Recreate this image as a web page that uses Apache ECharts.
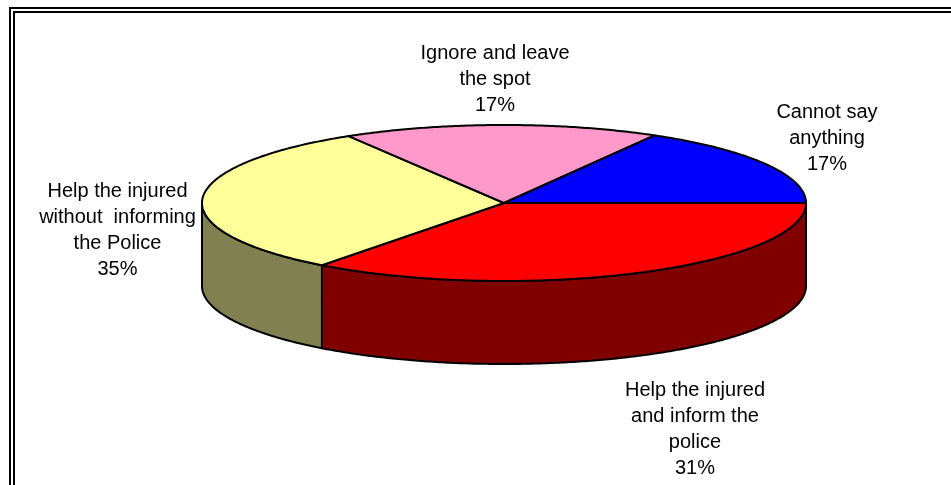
<!DOCTYPE html>
<html><head><meta charset="utf-8">
<style>html,body{margin:0;padding:0;background:#fff}#c{width:951px;height:485px}</style>
<script src="https://cdn.jsdelivr.net/npm/echarts@6/dist/echarts.min.js"></script>
</head><body><div id="c"></div>
<script>
const categories = ['Help the injured\nand inform the\npolice','Help the injured\nwithout  informing\nthe Police','Ignore and leave\nthe spot','Cannot say\nanything'];
const percentLabels = ['31%','35%','17%','17%'];
const sliceShares = [35.3, 31.1, 16.9, 16.7];

const topColors = ['#FF0000','#FFFF99','#FF99CC','#0000FF'];
const sideColors = ['#800000','#808050','#804D66','#000080'];
const labelPos = [[695,429],[117.5,230],[495,79.5],[827,138.5]];

const cx=504, cy=203, rx=302, ry=78, depth=83, lw=2;
const total = sliceShares.reduce((a,b)=>a+b,0);
let acc=0;
const ranges = sliceShares.map(v=>{const s=acc; acc+=v/total*Math.PI*2; return [s,acc];});
const pt=(t,dy)=>[cx+rx*Math.cos(t), cy+ry*Math.sin(t)+(dy||0)];
function arc(a,b,dy){const n=Math.max(2,Math.ceil(Math.abs(b-a)/0.01));const o=[];for(let i=0;i<=n;i++)o.push(pt(a+(b-a)*i/n,dy));return o;}
function renderItem(p,api){
  const i=p.dataIndex, [a,b]=ranges[i];
  const kids=[];
  const ls={stroke:'#000',lineWidth:lw,lineJoin:'round'};
  const sa=a, sb=Math.min(b,Math.PI);
  if(sa<Math.PI){
    const front=arc(sa,sb,0).concat(arc(sb,sa,depth));
    kids.push({type:'polygon',shape:{points:front},style:{fill:sideColors[i],...ls}});
  }
  const top=[[cx,cy]].concat(arc(a,b,0));
  kids.push({type:'polygon',shape:{points:top},style:{fill:topColors[i],...ls},z2:5});
  return {type:'group',children:kids};
}
function labelItem(p,api){
  const i=p.dataIndex;
  return {type:'text',x:labelPos[i][0],y:labelPos[i][1],
    style:{text:categories[i]+'\n'+percentLabels[i],fill:'#000',font:'20px "Liberation Sans"',lineHeight:26,align:'center',verticalAlign:'middle'}};
}
const chart=echarts.init(document.getElementById('c'),null,{renderer:'canvas'});
chart.setOption({
  animation:false,
  xAxis:{show:false,min:0,max:1},yAxis:{show:false,min:0,max:1},
  grid:{left:0,right:0,top:0,bottom:0},
  graphic:[
    {type:'polyline',shape:{points:[[10,485],[10,8],[951,8]]},style:{stroke:'#000',fill:null,lineWidth:2},silent:true},
    {type:'polyline',shape:{points:[[14,485],[14,12],[951,12]]},style:{stroke:'#000',fill:null,lineWidth:2},silent:true}
  ],
  series:[
    {type:'custom',coordinateSystem:'none',renderItem,data:sliceShares,clip:false,silent:true,z:2},
    {type:'custom',coordinateSystem:'none',renderItem:labelItem,data:percentLabels,silent:true,z:3}
  ]
});
</script></body></html>
